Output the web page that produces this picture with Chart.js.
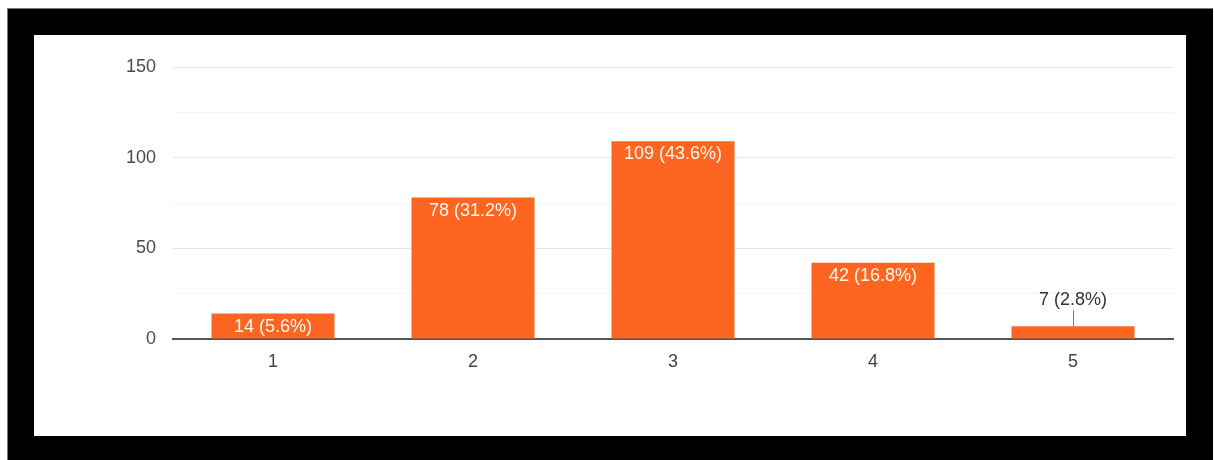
<!DOCTYPE html>
<html>
<head>
<meta charset="utf-8">
<script src="https://cdn.jsdelivr.net/npm/chart.js@4"></script>
<style>
  html, body { margin: 0; padding: 0; background: #fff; }
  body { width: 1214px; height: 460px; position: relative; overflow: hidden; }
  #frame { position: absolute; left: 7px; top: 8px; width: 1205px; height: 452px; background: #000; border-left: 1px solid #777; border-top: 1px solid #777; }
  #panel { position: absolute; left: 34px; top: 35px; width: 1152px; height: 401px; background: #fff; }
  #chart { position: absolute; left: 0; top: 0; }
</style>
</head>
<body>
<div id="frame"></div>
<div id="panel"></div>
<canvas id="chart" width="1214" height="460"></canvas>
<script>
const categories = ['1', '2', '3', '4', '5'];
const counts = [14, 78, 109, 42, 7];
const percents = ['5.6%', '31.2%', '43.6%', '16.8%', '2.8%'];
const yTicks = [0, 50, 100, 150];

const barColor = '#fd6520';
const font = "'Liberation Sans', Arial, sans-serif";

// etiquettes des barres : dedans si la barre est assez haute, sinon au-dessus avec un trait
const barLabels = {
  id: 'barLabels',
  afterDatasetsDraw(chart) {
    const ctx = chart.ctx;
    const meta = chart.getDatasetMeta(0);
    ctx.save();
    ctx.font = '18px ' + font;
    ctx.textAlign = 'center';
    ctx.textBaseline = 'middle';
    meta.data.forEach((bar, i) => {
      const text = counts[i] + ' (' + percents[i] + ')';
      const h = bar.base - bar.y;
      if (h > 20) {
        ctx.fillStyle = '#fff8ee';
        ctx.fillText(text, bar.x, bar.y + 13);
      } else {
        ctx.fillStyle = '#333';
        ctx.fillText(text, bar.x, bar.y - 26);
        ctx.strokeStyle = '#777';
        ctx.lineWidth = 1;
        ctx.beginPath();
        ctx.moveTo(bar.x + 0.5, bar.y - 16);
        ctx.lineTo(bar.x + 0.5, bar.y);
        ctx.stroke();
      }
    });
    ctx.restore();
  }
};

new Chart(document.getElementById('chart'), {
  type: 'bar',
  data: {
    labels: categories,
    datasets: [{
      data: counts,
      backgroundColor: barColor,
      borderWidth: 0,
      categoryPercentage: 1,
      barPercentage: 0.615
    }]
  },
  options: {
    responsive: false,
    animation: false,
    devicePixelRatio: 1,
    layout: { padding: { top: 67, right: 41, bottom: 0, left: 0 } },
    plugins: { legend: { display: false }, tooltip: { enabled: false } },
    scales: {
      x: {
        grid: { display: false, drawTicks: false },
        border: { color: '#555', width: 2 },
        ticks: { color: '#444', font: { size: 18, family: font }, padding: 12 },
        afterFit: s => { s.height = 121; }
      },
      y: {
        min: 0,
        max: 150,
        afterBuildTicks: s => {
          const t = [];
          for (let v = 0; v <= 150; v += 25) t.push({ value: v });
          s.ticks = t;
        },
        grid: {
          drawTicks: false,
          color: c => (c.tick.value % 50 === 0 ? '#e8e8e8' : '#f4f4f4')
        },
        border: { display: false },
        ticks: {
          color: '#4a4a4a',
          font: { size: 18, family: font },
          padding: 17,
          callback: v => (yTicks.includes(v) ? String(v) : '')
        },
        afterFit: s => { s.width = 173; }
      }
    }
  },
  plugins: [barLabels]
});
</script>
</body>
</html>
